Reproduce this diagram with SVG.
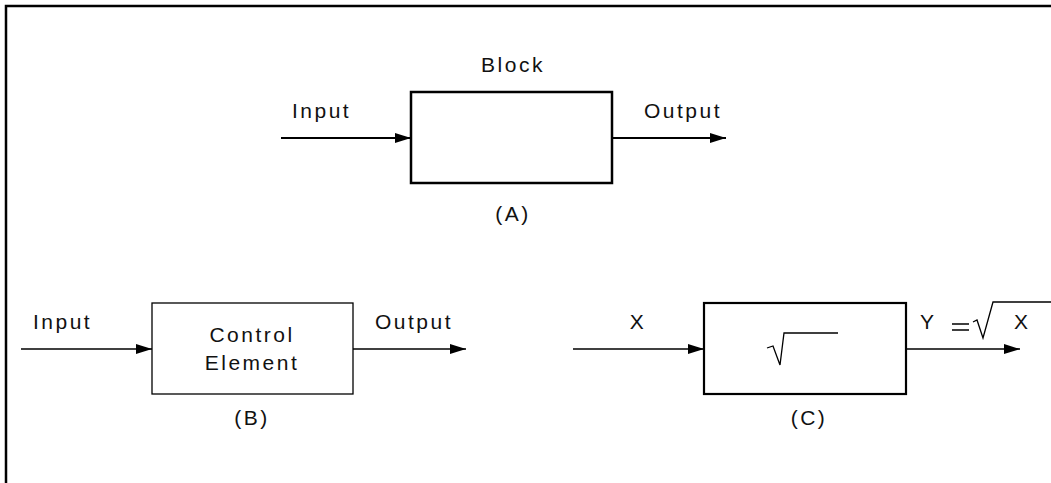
<svg xmlns="http://www.w3.org/2000/svg" width="1051" height="483" viewBox="0 0 1051 483">
<style>
text{font-family:"Liberation Sans",Arial,sans-serif;font-size:21px;fill:#111;letter-spacing:2.5px}
.c{text-anchor:middle}
.box{fill:#fff;stroke:#000}
.ln{fill:none;stroke:#000}
</style>
<defs>
<marker id="ah" viewBox="0 0 16 10" refX="16" refY="5" markerWidth="16" markerHeight="10" markerUnits="userSpaceOnUse" orient="auto">
<path d="M0,0 L16,5 L0,10 Z" fill="#000"/>
</marker>
</defs>
<rect width="1051" height="483" fill="#fff"/>
<g id="frame">
<path class="ln" d="M6,483 V6 H1051" stroke-width="2.5"/>
</g>
<g id="connectors">
<line class="ln" x1="281" y1="138" x2="411" y2="138" stroke-width="2" marker-end="url(#ah)"/>
<line class="ln" x1="612" y1="138" x2="726" y2="138" stroke-width="2" marker-end="url(#ah)"/>
<line class="ln" x1="21" y1="349" x2="152" y2="349" stroke-width="1.3" marker-end="url(#ah)"/>
<line class="ln" x1="353" y1="349" x2="466" y2="349" stroke-width="1.3" marker-end="url(#ah)"/>
<line class="ln" x1="573" y1="349" x2="704" y2="349" stroke-width="1.3" marker-end="url(#ah)"/>
<line class="ln" x1="906" y1="349" x2="1020" y2="349" stroke-width="1.3" marker-end="url(#ah)"/>
</g>
<g id="blockA">
<rect class="box" x="411" y="92" width="201" height="91" stroke-width="2.5"/>
<text class="c" x="513" y="72">Block</text>
<text x="292" y="118">Input</text>
<text x="644" y="118">Output</text>
<text class="c" x="513" y="221">(A)</text>
</g>
<g id="blockB">
<rect class="box" x="152" y="303" width="201" height="91" stroke-width="1.3"/>
<text x="33" y="329">Input</text>
<text x="375" y="329">Output</text>
<text class="c" x="252" y="342">Control</text>
<text class="c" x="252" y="370">Element</text>
<text class="c" x="252" y="425">(B)</text>
</g>
<g id="blockC">
<rect class="box" x="704" y="303" width="202" height="91" stroke-width="2.2"/>
<path class="ln" d="M767,348 L773,346 L780,365 L784,333 H838" stroke-width="1.3"/>
<text class="c" x="638" y="329">X</text>
<text class="c" x="809" y="425">(C)</text>
<text x="920" y="329">Y</text>
<path class="ln" d="M952,324 H969 M952,330 H969" stroke-width="1.3"/>
<path class="ln" d="M973,322 L977,320 L983,338 L993,302 H1051" stroke-width="1.3"/>
<text x="1014" y="329">X</text>
</g>
</svg>
